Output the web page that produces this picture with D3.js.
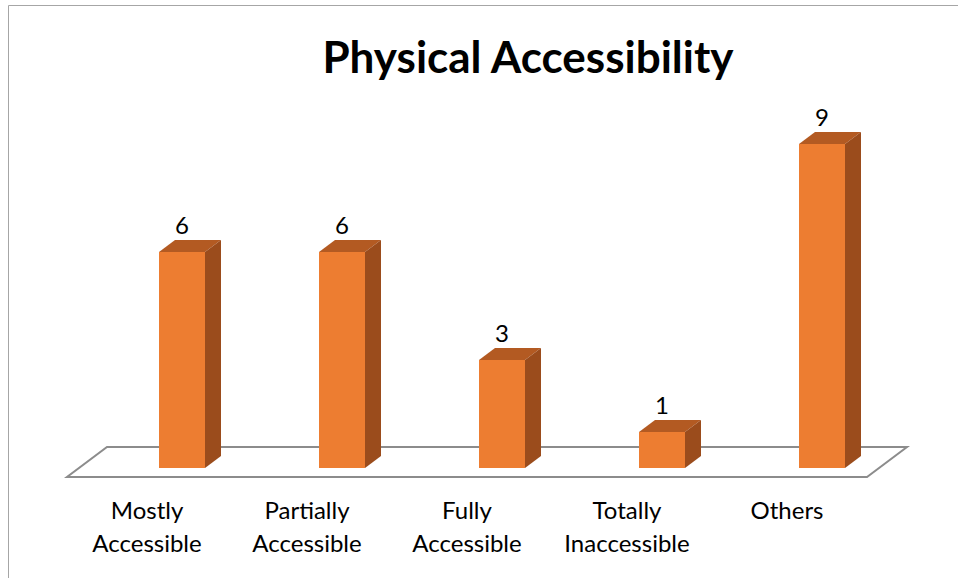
<!DOCTYPE html>
<html>
<head>
<meta charset="utf-8">
<script src="https://cdn.jsdelivr.net/npm/d3@7"></script>
<style>
  body { margin: 0; background: #fff; }
  text { font-family: Lato, "Open Sans", sans-serif; }
</style>
</head>
<body>
<script>
const categories = ['Mostly Accessible', 'Partially Accessible', 'Fully Accessible', 'Totally Inaccessible', 'Others'];
const values = [6, 6, 3, 1, 9];

const w = 958, h = 578;
const svg = d3.select('body').append('svg')
  .attr('width', w)
  .attr('height', h);

// outer chart border
svg.append('path')
  .attr('d', `M8.5,${h} V5.5 H${w}`)
  .attr('fill', 'none')
  .attr('stroke', '#a6a6a6')
  .attr('stroke-width', 1);

svg.append('text')
  .attr('x', 528)
  .attr('y', 73)
  .attr('text-anchor', 'middle')
  .attr('font-size', 44)
  .attr('font-weight', 'bold')
  .attr('fill', '#000')
  .text('Physical Accessibility');

// floor in front-plane coords
const x = d3.scaleBand().domain(categories).range([67, 867]);
const y = d3.scaleLinear().domain([0, 9]).range([468, 144]);

const floorDx = 40, floorDy = -30;
const floorY = 477;
svg.append('path')
  .attr('d', `M${x.range()[0]},${floorY} L${x.range()[1]},${floorY} L${x.range()[1] + floorDx},${floorY + floorDy} L${x.range()[0] + floorDx},${floorY + floorDy} Z`)
  .attr('fill', 'none')
  .attr('stroke', '#8c8c8c')
  .attr('stroke-width', 2);

// bars: front face shifted into the floor, with depth offset
const shiftX = 35, barW = 46, dx = 16, dy = -12;

const bars = svg.selectAll('g.bar')
  .data(categories.map((c, i) => ({ c, v: values[i] })))
  .join('g')
  .attr('class', 'bar');

bars.each(function (d) {
  const g = d3.select(this);
  const x0 = x(d.c) + x.bandwidth() / 2 + shiftX - barW / 2;
  const x1 = x0 + barW;
  const yt = y(d.v), yb = y(0);
  // top face
  g.append('path')
    .attr('d', `M${x0},${yt} L${x0 + dx},${yt + dy} L${x1 + dx},${yt + dy} L${x1},${yt} Z`)
    .attr('fill', '#b35a22');
  // side face
  g.append('path')
    .attr('d', `M${x1},${yt} L${x1 + dx},${yt + dy} L${x1 + dx},${yb + dy} L${x1},${yb} Z`)
    .attr('fill', '#9b4c1c');
  // front face
  g.append('rect')
    .attr('x', x0)
    .attr('y', yt)
    .attr('width', barW)
    .attr('height', yb - yt)
    .attr('fill', '#ed7d31');
  g.append('text')
    .attr('x', x0 + barW / 2)
    .attr('y', yt + dy - 6)
    .attr('text-anchor', 'middle')
    .attr('font-size', 24)
    .attr('fill', '#000')
    .text(d.v);
});

// category labels, two lines each
svg.selectAll('text.cat')
  .data(categories)
  .join('text')
  .attr('class', 'cat')
  .attr('text-anchor', 'middle')
  .attr('font-size', 24)
  .attr('fill', '#000')
  .each(function (c) {
    const words = c.split(' ');
    const t = d3.select(this);
    words.forEach((wd, i) => {
      t.append('tspan')
        .attr('x', x(c) + x.bandwidth() / 2)
        .attr('y', 519 + i * 33)
        .text(wd);
    });
  });
</script>
</body>
</html>
